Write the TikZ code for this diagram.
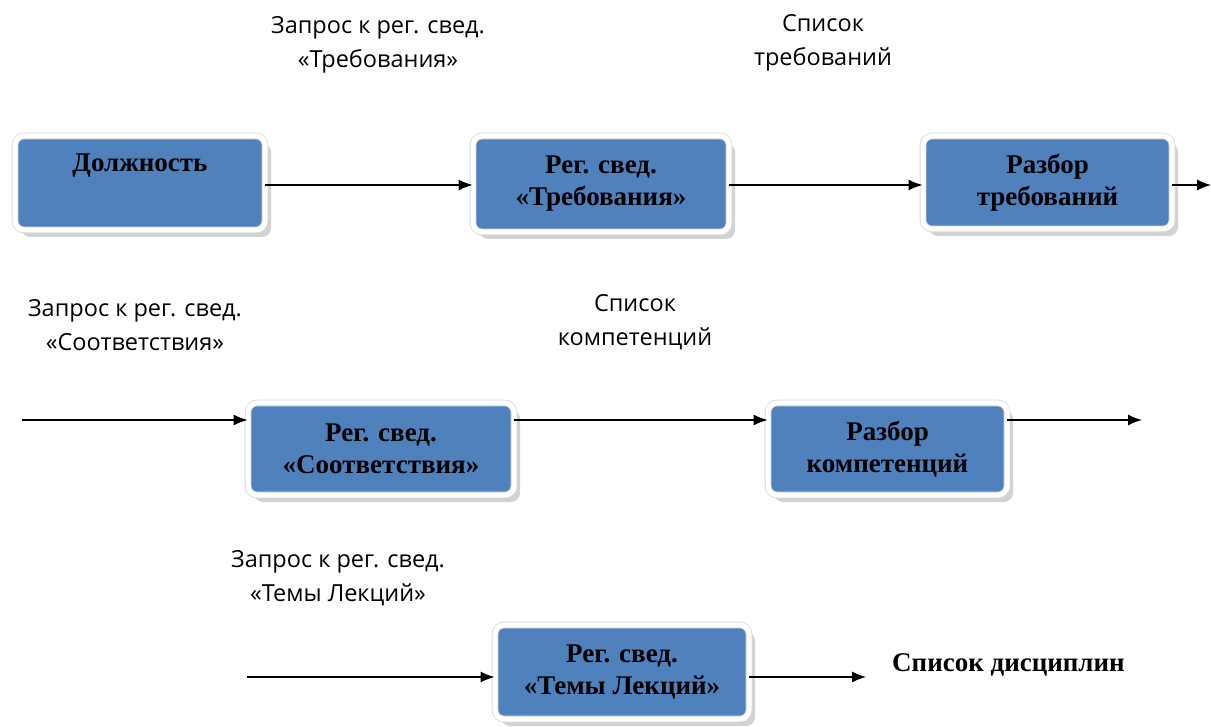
\documentclass[tikz,border=0pt]{standalone}
\usepackage{fontspec}
\setmainfont{Liberation Serif}
\newfontfamily\lblfont{Open Sans}
\usetikzlibrary{shadows,arrows.meta}
\definecolor{boxblue}{HTML}{4F81BD}
\begin{document}
\begin{tikzpicture}[x=1pt,y=-1pt,
  procbox/.style={rectangle, rounded corners=9pt, fill=boxblue, draw=black!15, line width=0.8pt,
    double=white, double distance=5pt, align=center, inner sep=0pt,
    font=\fontsize{27}{32}\selectfont\bfseries,
    drop shadow={shadow xshift=6pt, shadow yshift=-7pt, fill=black!35}},
  lbl/.style={align=center, inner sep=0pt, font=\lblfont\fontsize{23.5}{34}\selectfont},
  conn/.style={line width=1.4pt, -{Latex[length=14pt,width=11pt]}}]
\useasboundingbox (0,0) rectangle (1211,727);
% row 1
\node[procbox, minimum width=250pt, minimum height=94pt] (dolzh) at (140,183) {Должность\\ \strut};
\node[procbox, minimum width=256pt, minimum height=96pt] (treb) at (601,184) {Рег. свед.\\«Требования»};
\node[procbox, minimum width=249pt, minimum height=93pt] (razbt) at (1047.5,182.5) {Разбор\\требований};
\coordinate (out1) at (1211,185);
% row 2
\node[procbox, minimum width=266pt, minimum height=92pt] (sootv) at (381,449) {Рег. свед.\\«Соответствия»};
\node[procbox, minimum width=239pt, minimum height=92pt] (razbk) at (887.5,449) {Разбор\\компетенций};
\coordinate (in2) at (22,420);
\coordinate (out2) at (1142,420);
% row 3
\node[procbox, minimum width=254pt, minimum height=94pt] (temy) at (622,672) {Рег. свед.\\«Темы Лекций»};
\coordinate (in3) at (247,677);
\coordinate (out3) at (866,677);
\node[font=\fontsize{27}{30}\selectfont\bfseries, anchor=west, inner sep=0pt] (disc) at (892,665) {Список дисциплин};
% labels
\node[lbl] (l1) at (378,45) {Запрос к рег. свед.\\«Требования»};
\node[lbl] (l2) at (823,43) {Список\\требований};
\node[lbl] (l3) at (135,325) {Запрос к рег. свед.\\«Соответствия»};
\node[lbl] (l4) at (635,322) {Список\\компетенций};
\node[lbl] (l5) at (338,578) {Запрос к рег. свед.\\«Темы Лекций»};
% connectors
\draw[conn] (dolzh.east |- out1) -- (treb.west |- out1);
\draw[conn] (treb.east |- out1) -- (razbt.west |- out1);
\draw[conn] (razbt.east |- out1) -- (out1);
\draw[conn] (in2) -- (sootv.west |- in2);
\draw[conn] (sootv.east |- in2) -- (razbk.west |- in2);
\draw[conn] (razbk.east |- in2) -- (out2);
\draw[conn] (in3) -- (temy.west |- in3);
\draw[conn] (temy.east |- in3) -- (out3);
\end{tikzpicture}
\end{document}
